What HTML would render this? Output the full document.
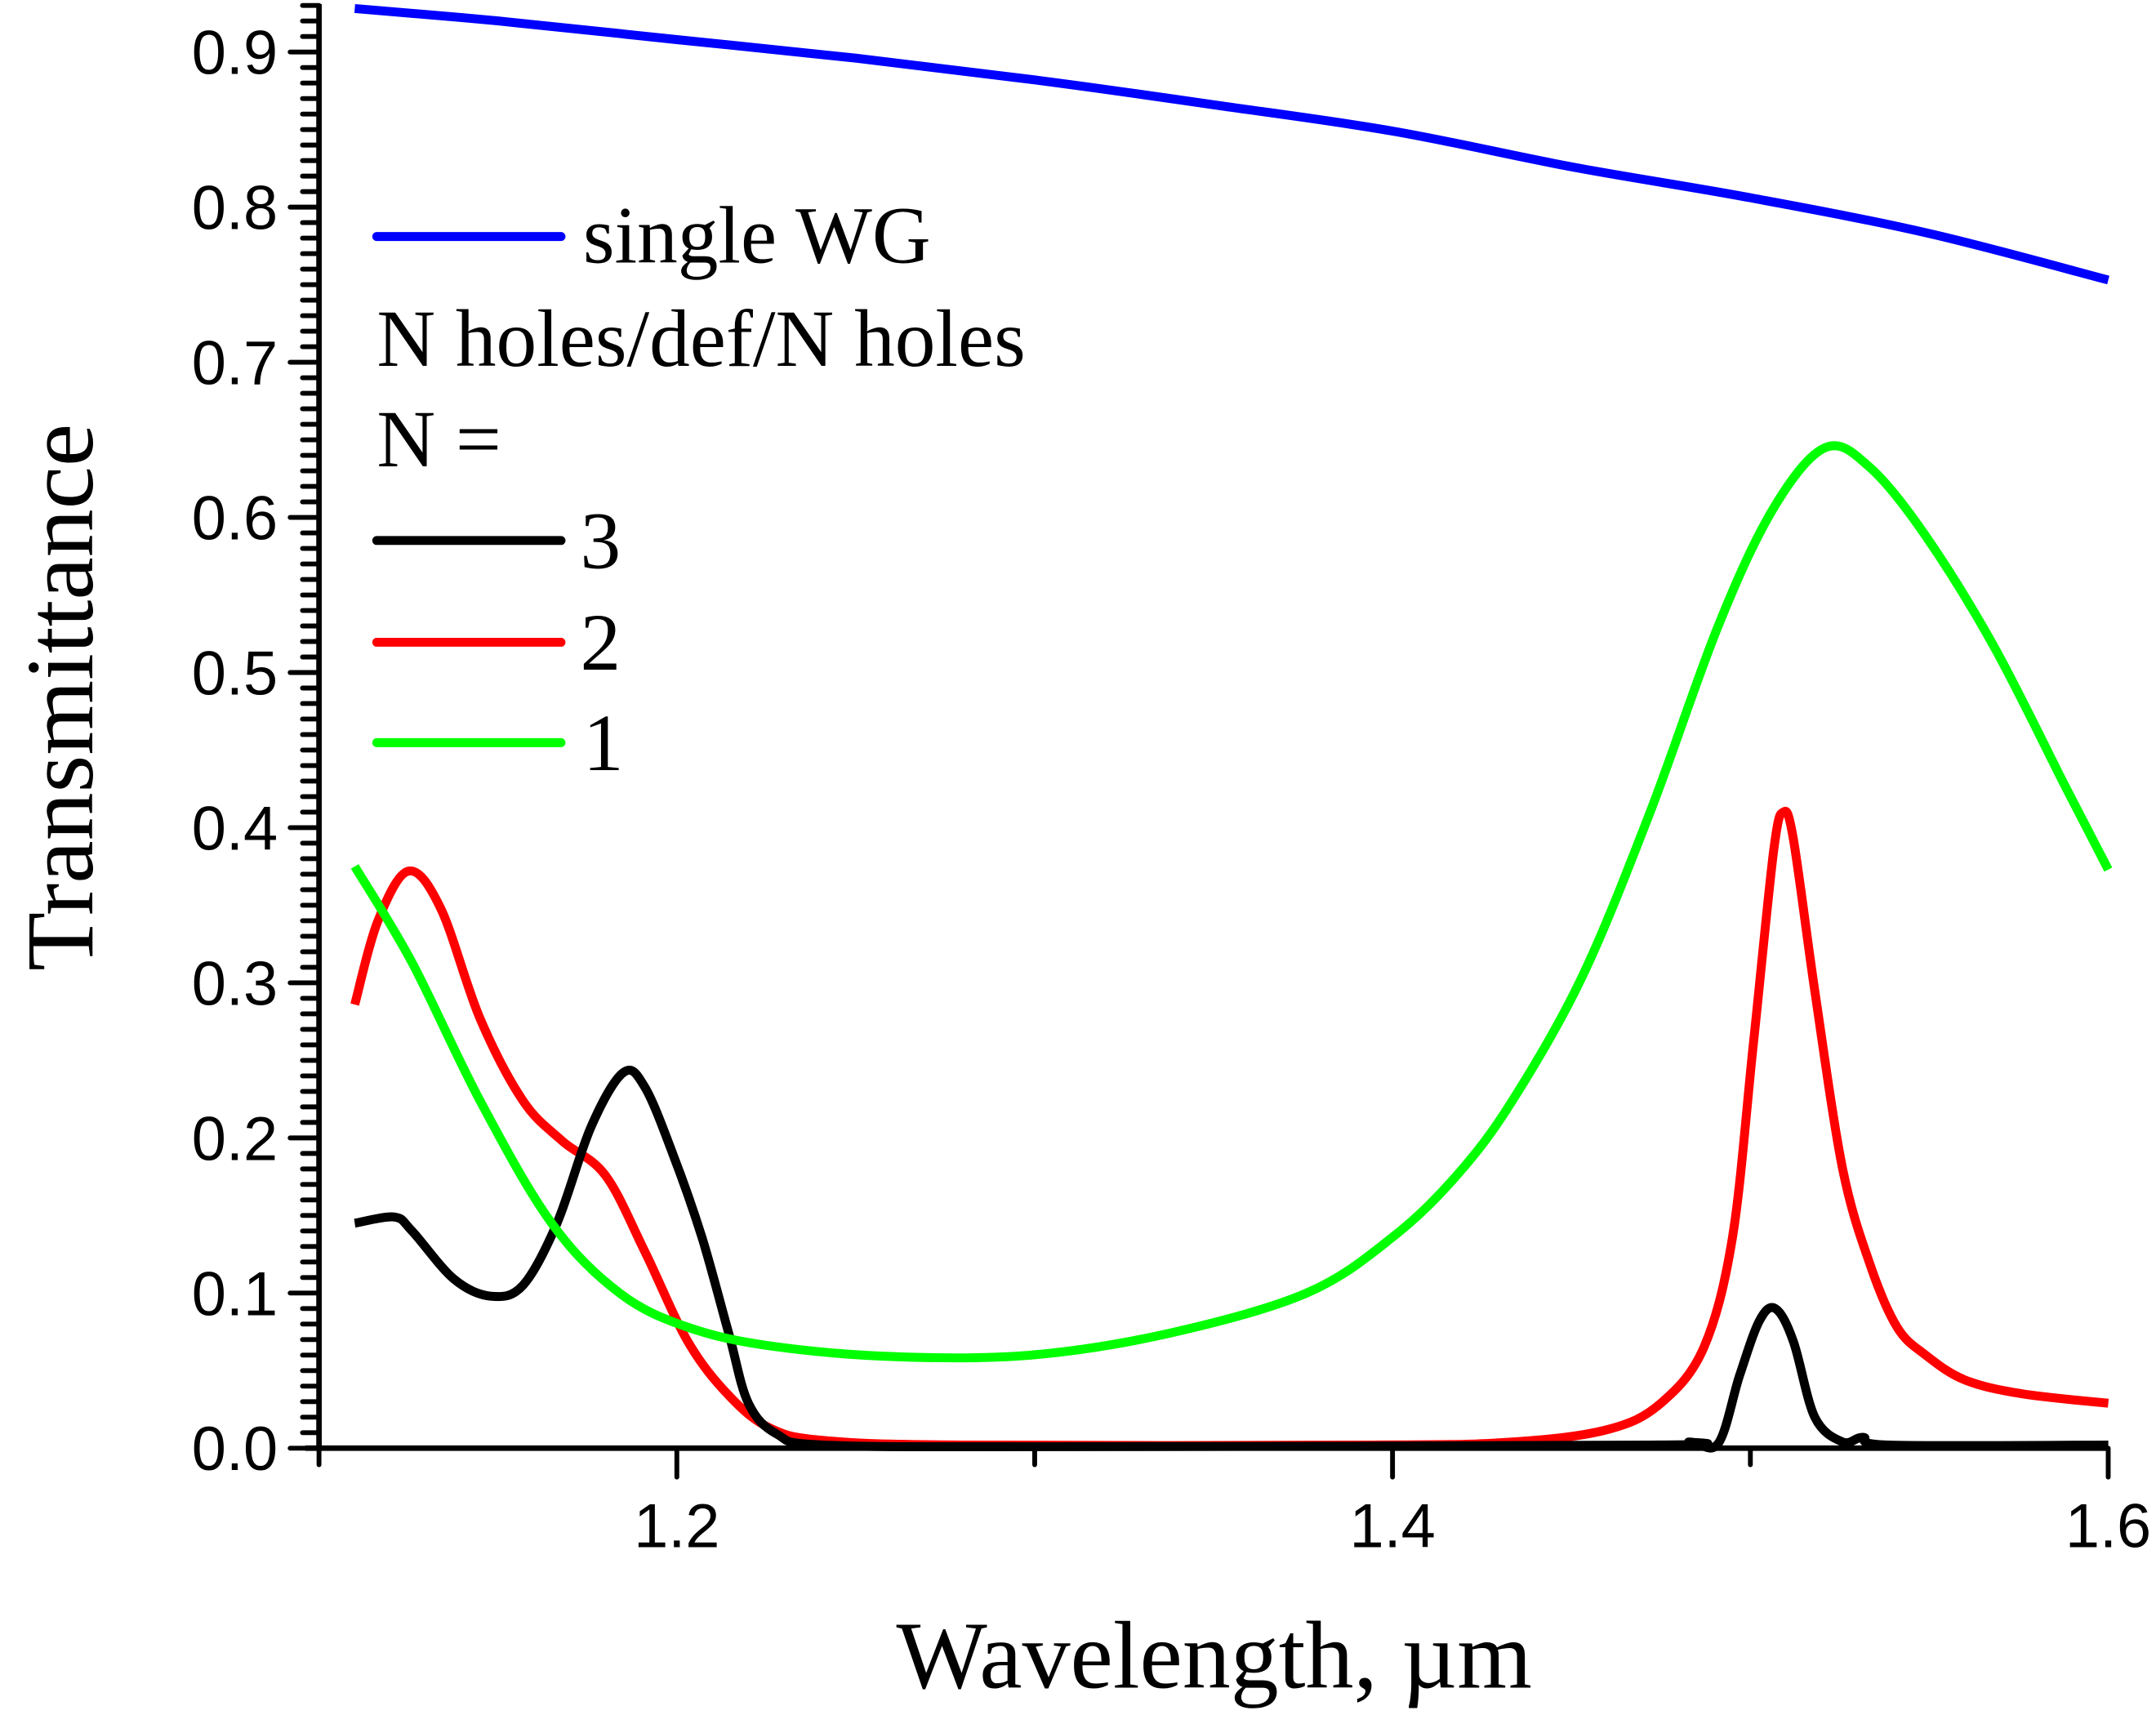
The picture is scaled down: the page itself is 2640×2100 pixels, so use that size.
<!DOCTYPE html>
<html><head><meta charset="utf-8"><style>
html,body{margin:0;padding:0;background:#fff;}
svg{display:block;}
</style></head><body>
<svg id="chart" width="2640" height="2100" viewBox="0 0 1568 1247" preserveAspectRatio="none" xmlns="http://www.w3.org/2000/svg">
<g id="axes"></g>
<g id="series"></g>
<g id="legend" font-family="Liberation Serif, serif" font-size="59" fill="#000">
  <line x1="274" y1="172" x2="408" y2="172" stroke="#0000ff" stroke-width="6.5" stroke-linecap="round"/>
  <text x="424" y="191">single WG</text>
  <text x="274" y="266">N holes/def/N holes</text>
  <text x="274" y="339">N =</text>
  <line x1="274" y1="393" x2="408" y2="393" stroke="#000" stroke-width="6.5" stroke-linecap="round"/>
  <text x="422" y="413">3</text>
  <line x1="274" y1="467" x2="408" y2="467" stroke="#ff0000" stroke-width="6.5" stroke-linecap="round"/>
  <text x="422" y="487">2</text>
  <line x1="274" y1="540" x2="408" y2="540" stroke="#00ff00" stroke-width="6.5" stroke-linecap="round"/>
  <text x="424" y="560">1</text>
</g>
<text x="883" y="1227" text-anchor="middle" font-family="Liberation Serif, serif" font-size="70">Wavelength, µm</text>
<text transform="translate(67,507) rotate(-90)" text-anchor="middle" font-family="Liberation Serif, serif" font-size="70">Transmittance</text>
</svg>
<script>
const xTicks = [1.2, 1.4, 1.6];
const xMinorTicks = [1.1, 1.3, 1.5];
const yTicks = [0.0, 0.1, 0.2, 0.3, 0.4, 0.5, 0.6, 0.7, 0.8, 0.9];
const yTickLabels = ["0.0","0.1","0.2","0.3","0.4","0.5","0.6","0.7","0.8","0.9"];

const blueX = [1.11, 1.15, 1.2, 1.25, 1.3, 1.35, 1.4, 1.45, 1.5, 1.55, 1.6];
const blueY = [0.928, 0.92, 0.908, 0.896, 0.882, 0.866, 0.849, 0.826, 0.806, 0.783, 0.753];

const greenX = [1.11, 1.126, 1.145, 1.165, 1.184, 1.203, 1.226, 1.2606, 1.299, 1.3375, 1.376, 1.4, 1.418, 1.4335, 1.453, 1.472, 1.491, 1.5065, 1.521, 1.5335, 1.549, 1.568, 1.5877, 1.6];
const greenY = [0.375, 0.313, 0.224, 0.145, 0.100, 0.078, 0.066, 0.059, 0.060, 0.074, 0.100, 0.136, 0.176, 0.224, 0.304, 0.41, 0.53, 0.606, 0.645, 0.632, 0.588, 0.517, 0.428, 0.373];

const redX = [1.11, 1.1165, 1.125, 1.134, 1.145, 1.157, 1.168, 1.18, 1.191, 1.203, 1.2145, 1.226, 1.241, 1.28, 1.395, 1.4335, 1.46, 1.475, 1.487, 1.495, 1.5008, 1.5065, 1.5092, 1.512, 1.518, 1.5258, 1.5335, 1.541, 1.549, 1.56, 1.576, 1.6];
const redY = [0.286, 0.34, 0.372, 0.348, 0.277, 0.224, 0.198, 0.176, 0.127, 0.069, 0.034, 0.013, 0.005, 0.002, 0.002, 0.004, 0.012, 0.029, 0.065, 0.136, 0.26, 0.385, 0.41, 0.393, 0.295, 0.18, 0.118, 0.078, 0.060, 0.044, 0.035, 0.029];

const blackX = [1.11, 1.121, 1.126, 1.1377, 1.148, 1.157, 1.1665, 1.176, 1.185, 1.191, 1.199, 1.207, 1.2145, 1.22, 1.228, 1.241, 1.3, 1.472, 1.483, 1.491, 1.497, 1.5025, 1.507, 1.512, 1.518, 1.5258, 1.5315, 1.539, 1.6];
const blackY = [0.145, 0.149, 0.14, 0.109, 0.098, 0.105, 0.145, 0.207, 0.242, 0.233, 0.189, 0.136, 0.074, 0.029, 0.009, 0.002, 0.001, 0.002, 0.004, 0.003, 0.047, 0.082, 0.09, 0.069, 0.02, 0.004, 0.007, 0.002, 0.002];

const X0 = 232, XPER = 2602.5, Y0 = 1053, YPER = 1128;
function xs(v){ return X0 + (v - 1.1) * XPER; }
function ys(v){ return Y0 - v * YPER; }
const NS = "http://www.w3.org/2000/svg";
function mk(tag, attrs, parent){
  const e = document.createElementNS(NS, tag);
  for (const k in attrs) e.setAttribute(k, attrs[k]);
  parent.appendChild(e);
  return e;
}
const axes = document.getElementById('axes');
const series = document.getElementById('series');

const yAxis = mk('line', {x1: X0, y1: 3, x2: X0, y2: Y0 + 2, stroke: '#000', 'stroke-width': 4}, axes);


const xAxis = mk('line', {x1: X0 - 10, y1: Y0, x2: xs(1.6), y2: Y0, stroke: '#000', 'stroke-width': 4}, axes);



for (let i = 0; i <= 93; i++) {
  const v = i / 100;
  const major = (i % 10 === 0);
  const t = mk('line', {x1: X0, y1: ys(v), x2: X0 - (major ? 21 : 12), y2: ys(v), stroke: '#000', 'stroke-width': 3.5, 'stroke-linecap': 'round'}, axes);
  
  
}
yTicks.forEach((v, i) => {
  const t = mk('text', {x: 202, y: ys(v) + 16, 'text-anchor': 'end', 'font-family': 'Liberation Sans, sans-serif', 'font-size': 45}, axes);
  t.textContent = yTickLabels[i];
  
  
});
xTicks.forEach(v => {
  const t = mk('line', {x1: xs(v), y1: Y0, x2: xs(v), y2: Y0 + 21, stroke: '#000', 'stroke-width': 3.5, 'stroke-linecap': 'round'}, axes);
  
  
  const l = mk('text', {x: xs(v), y: Y0 + 72, 'text-anchor': 'middle', 'font-family': 'Liberation Sans, sans-serif', 'font-size': 45}, axes);
  l.textContent = v.toFixed(1);
  
  
});
xMinorTicks.forEach(v => {
  const t = mk('line', {x1: xs(v), y1: Y0, x2: xs(v), y2: Y0 + 12, stroke: '#000', 'stroke-width': 3.5, 'stroke-linecap': 'round'}, axes);
  
  
});

function smoothPath(xv, yv){
  const p = xv.map((x, i) => [xs(x), ys(yv[i])]);
  let d = 'M' + p[0][0].toFixed(1) + ',' + p[0][1].toFixed(1);
  for (let i = 0; i < p.length - 1; i++) {
    const p0 = p[i - 1] || p[i], p1 = p[i], p2 = p[i + 1], p3 = p[i + 2] || p2;
    const c1 = [p1[0] + (p2[0] - p0[0]) / 6, p1[1] + (p2[1] - p0[1]) / 6];
    const c2 = [p2[0] - (p3[0] - p1[0]) / 6, p2[1] - (p3[1] - p1[1]) / 6];
    d += ' C' + c1[0].toFixed(1) + ',' + c1[1].toFixed(1) + ' ' + c2[0].toFixed(1) + ',' + c2[1].toFixed(1) + ' ' + p2[0].toFixed(1) + ',' + p2[1].toFixed(1);
  }
  return d;
}
const blue = mk('path', {d: smoothPath(blueX, blueY), fill: 'none', stroke: '#0000ff', 'stroke-width': 6.5}, series);


const red = mk('path', {d: smoothPath(redX, redY), fill: 'none', stroke: '#ff0000', 'stroke-width': 6.5}, series);


const black = mk('path', {d: smoothPath(blackX, blackY), fill: 'none', stroke: '#000', 'stroke-width': 6.5}, series);


const green = mk('path', {d: smoothPath(greenX, greenY), fill: 'none', stroke: '#00ff00', 'stroke-width': 6.5}, series);


</script>
</body></html>
